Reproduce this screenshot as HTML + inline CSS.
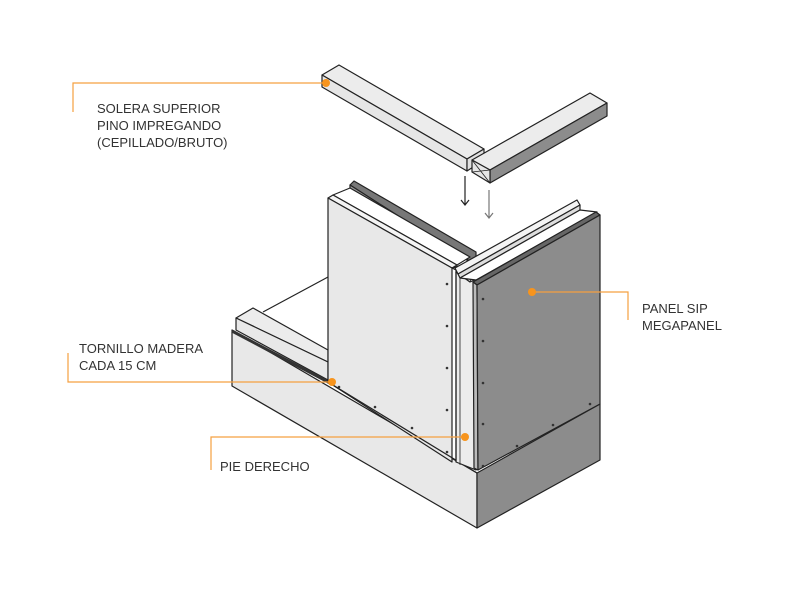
<!DOCTYPE html>
<html><head><meta charset="utf-8"><style>
html,body{margin:0;padding:0;background:#fff;}
svg{display:block}
text{font-family:"Liberation Sans",sans-serif;font-size:13px;fill:#333;}
</style></head><body>
<svg width="791" height="594" viewBox="0 0 791 594" xmlns="http://www.w3.org/2000/svg">
<g stroke="#222" stroke-width="1.2" stroke-linejoin="round">
<!-- back wall line -->
<line x1="263" y1="312" x2="328" y2="277"/>
<!-- base front face -->
<polygon points="232,330 477,473 477,528 232,386" fill="#e8e8e8"/>
<!-- base right face -->
<polygon points="477,473 600,404 600,460 477,528" fill="#8c8c8c"/>
<!-- sill -->
<polygon points="236,318 253,308 328,350 328,362" fill="#ececec"/>
<polygon points="236,318 328,362 328,380 236,330" fill="#e8e8e8"/>
<line x1="232" y1="331" x2="330" y2="383" stroke="#333" stroke-width="3"/>
<!-- rear rail dark -->
<polygon points="350,185 354,181 476,252 476,258 470,262" fill="#777"/>
<polygon points="350,185 350,190 466,258 470,262" fill="#999"/>
<!-- foam top between -->
<polygon points="333,195 350,188 470,257 457,265" fill="#fff"/>
<!-- left panel -->
<polygon points="328,198 333,195 457,265 452,268" fill="#f4f4f4"/>
<polygon points="328,198 452,268 452,462 328,382" fill="#e8e8e8"/>
<line x1="328" y1="382" x2="477" y2="473"/>
<!-- post -->
<polygon points="452,268 472,262 476,275 476,470 456,462 456,270" fill="#ececec"/>
<line x1="456" y1="272" x2="456" y2="462"/>
<line x1="460" y1="275" x2="460" y2="465" stroke-width="0.8"/>
<!-- post top X -->
<polygon points="456,272 475,265 486,275 470,282" fill="#ddd"/>
<line x1="456" y1="272" x2="470" y2="282" stroke-width="0.8"/>
<line x1="475" y1="265" x2="470" y2="282" stroke-width="0.8"/>
<!-- right rail light -->
<polygon points="455,268 577,200 580,205 458,274" fill="#f4f4f4"/>
<polygon points="458,274 580,205 580,210 460,278" fill="#ddd"/>
<polygon points="460,278 580,210 597,212 476,280" fill="#fff"/>
<!-- right panel -->
<polygon points="473,282 596,212 600,215 477,285" fill="#666"/>
<polygon points="473,282 477,285 478,470 474,468" fill="#bbb"/>
<polygon points="477,285 600,215 600,404 478,470" fill="#8c8c8c"/>
<!-- beams -->
<polygon points="322,75 339,65 484,149 467,159" fill="#ececec"/>
<polygon points="322,75 467,159 467,171 322,87" fill="#e6e6e6"/>
<polygon points="467,159 484,149 484,160 467,171" fill="#e0e0e0"/>
<polygon points="472,160 590,93 607,103 490,170" fill="#ececec"/>
<polygon points="490,170 607,103 607,116 490,183" fill="#8c8c8c"/>
<polygon points="472,160 490,170 490,183 472,172" fill="#e6e6e6"/>
<line x1="472" y1="160" x2="490" y2="183" stroke-width="0.8"/>
<line x1="490" y1="170" x2="472" y2="172" stroke-width="0.8"/>
</g>
<!-- arrows -->
<g fill="none" stroke-width="1.2">
<path d="M465 176V205M461 200L465 205L469 200" stroke="#222"/>
<path d="M489 190V218M485 213L489 218L493 213" stroke="#777"/>
</g>
<!-- screws -->
<g fill="#333">
<circle cx="447" cy="284" r="1.3"/><circle cx="447" cy="326" r="1.3"/><circle cx="447" cy="368" r="1.3"/><circle cx="447" cy="410" r="1.3"/><circle cx="447" cy="452" r="1.3"/>
<circle cx="483" cy="299" r="1.3"/><circle cx="483" cy="341" r="1.3"/><circle cx="483" cy="383" r="1.3"/><circle cx="483" cy="424" r="1.3"/><circle cx="483" cy="466" r="1.3"/>
<circle cx="339" cy="387" r="1.3"/><circle cx="375" cy="407" r="1.3"/><circle cx="412" cy="428" r="1.3"/>
<circle cx="517" cy="446" r="1.3"/><circle cx="553" cy="425" r="1.3"/><circle cx="590" cy="404" r="1.3"/>
</g>
<!-- leaders -->
<g fill="none" stroke="#f5a040" stroke-width="1.2">
<polyline points="73,112 73,83 327,83"/>
<polyline points="68,353 68,382 332,382"/>
<polyline points="211,470 211,437 465,437"/>
<polyline points="532,292 628,292 628,320"/>
</g>
<g fill="#f7941d">
<circle cx="326" cy="83" r="4"/><circle cx="332" cy="382" r="4"/><circle cx="465" cy="437" r="4"/><circle cx="532" cy="292" r="4"/>
</g>
<text x="97" y="113">SOLERA SUPERIOR</text>
<text x="97" y="130">PINO IMPREGANDO</text>
<text x="97" y="147">(CEPILLADO/BRUTO)</text>
<text x="79" y="353">TORNILLO MADERA</text>
<text x="79" y="370">CADA 15 CM</text>
<text x="220" y="471">PIE DERECHO</text>
<text x="642" y="313">PANEL SIP</text>
<text x="642" y="330">MEGAPANEL</text>
</svg>
</body></html>
